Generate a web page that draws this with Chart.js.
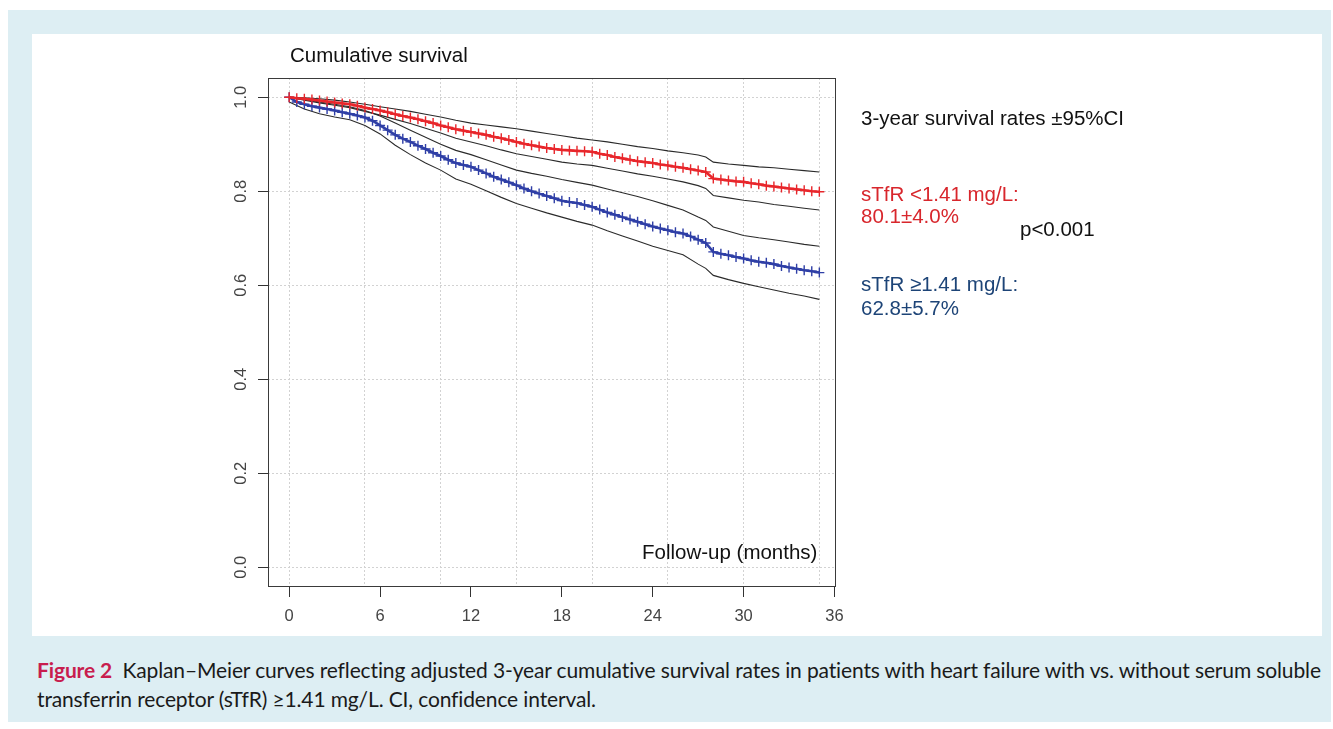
<!DOCTYPE html>
<html>
<head>
<meta charset="utf-8">
<script src="https://cdn.jsdelivr.net/npm/chart.js@4.4.0/dist/chart.umd.min.js"></script>
<style>
  html, body { margin: 0; padding: 0; width: 1333px; height: 729px; overflow: hidden; background: #fff; }
  #frame { position: absolute; left: 8px; top: 10px; width: 1323px; height: 712px; background: #ddeef3; }
  #panel { position: absolute; left: 32px; top: 34px; width: 1290px; height: 602px; background: #fff; }
  #wrap { position: absolute; left: 200px; top: 40px; width: 680px; height: 590px; }
  .t { position: absolute; font-family: "Liberation Sans", Arial, sans-serif; font-size: 20.5px; line-height: 20.5px; white-space: nowrap; color: #111; }
  .red { color: #d8262c; }
  .blue { color: #1d4477; }
  .cap { position: absolute; left: 37px; font-family: Lato, "Open Sans", sans-serif; font-size: 21px; line-height: 21px; white-space: nowrap; color: #1a1a1a; }
  .fig { color: #c81d4e; font-weight: bold; }
</style>
</head>
<body>
<div id="frame"></div>
<div id="panel"></div>
<div id="wrap"><canvas id="km"></canvas></div>

<div class="t" style="left:290px;top:45px;">Cumulative survival</div>
<div class="t" style="left:642px;top:542px;">Follow-up (months)</div>
<div class="t" style="left:861px;top:108px;">3-year survival rates ±95%CI</div>
<div class="t red" style="left:861px;top:184px;">sTfR &lt;1.41 mg/L:</div>
<div class="t red" style="left:861px;top:206px;">80.1±4.0%</div>
<div class="t" style="left:1020px;top:219px;">p&lt;0.001</div>
<div class="t blue" style="left:861px;top:274px;">sTfR ≥1.41 mg/L:</div>
<div class="t blue" style="left:861px;top:298px;">62.8±5.7%</div>

<div class="cap" id="cap1" style="top:659px;"><span class="fig">Figure 2</span>&nbsp; Kaplan–Meier curves reflecting adjusted 3-year cumulative survival rates in patients with heart failure with vs. without serum soluble</div>
<div class="cap" id="cap2" style="top:688px;">transferrin receptor (sTfR) ≥1.41 mg/L. CI, confidence interval.</div>

<script>
// follow-up time (months) for the survival curves
const months = [0,0.5,1,1.5,2,2.5,3,3.5,4,4.5,5,5.5,6,6.5,7,7.5,8,8.5,9,9.5,
  10,10.5,11,11.5,12,12.5,13,13.5,14,14.5,15,15.5,16,16.5,17,17.5,18,18.5,19,19.5,
  20,20.5,21,21.5,22,22.5,23,23.5,24,24.5,25,25.5,26,26.5,27,27.5,28,28.5,29,29.5,
  30,30.5,31,31.5,32,32.5,33,33.5,34,34.5,35];

// sTfR < 1.41 mg/L (red)
const survLow = [1.000,0.998,0.997,0.995,0.993,0.991,0.989,0.987,0.985,0.982,
  0.978,0.975,0.972,0.968,0.964,0.960,0.957,0.953,0.949,0.945,
  0.940,0.936,0.932,0.929,0.926,0.923,0.920,0.916,0.913,0.909,
  0.905,0.901,0.898,0.895,0.892,0.890,0.888,0.887,0.886,0.885,
  0.884,0.880,0.877,0.873,0.870,0.867,0.864,0.862,0.860,0.857,
  0.855,0.852,0.850,0.847,0.844,0.841,0.827,0.825,0.823,0.821,
  0.820,0.817,0.815,0.812,0.810,0.808,0.806,0.804,0.802,0.800,
  0.799];

// sTfR >= 1.41 mg/L (blue)
const survHigh = [1.000,0.990,0.985,0.981,0.978,0.975,0.972,0.968,0.965,0.961,
  0.957,0.950,0.940,0.930,0.920,0.912,0.905,0.897,0.890,0.882,
  0.875,0.867,0.860,0.856,0.852,0.845,0.838,0.831,0.825,0.819,
  0.813,0.806,0.800,0.795,0.790,0.785,0.780,0.777,0.775,0.771,
  0.767,0.761,0.755,0.750,0.745,0.740,0.735,0.730,0.725,0.721,
  0.717,0.713,0.710,0.704,0.697,0.690,0.671,0.667,0.664,0.660,
  0.657,0.653,0.650,0.648,0.645,0.641,0.638,0.635,0.632,0.630,
  0.627];

// 95% CI bands
const ciMonths = [0,1,2,3,4,5,6,7,8,9,10,11,12,13,14,15,16,17,18,19,20,21,22,23,24,25,26,27,27.5,28,29,30,31,32,33,34,35];
const lowUpper = [1.000,0.999,0.997,0.994,0.990,0.985,0.980,0.975,0.970,0.964,0.958,0.951,0.945,0.941,0.937,0.933,0.928,0.923,0.918,0.913,0.909,0.905,0.900,0.895,0.891,0.886,0.882,0.877,0.873,0.862,0.858,0.855,0.852,0.850,0.847,0.844,0.841];
const lowLower = [1.000,0.994,0.988,0.983,0.978,0.970,0.962,0.953,0.944,0.934,0.924,0.913,0.905,0.897,0.888,0.880,0.874,0.868,0.862,0.858,0.855,0.849,0.843,0.837,0.832,0.826,0.820,0.812,0.806,0.791,0.786,0.781,0.777,0.772,0.768,0.764,0.760];
const highUpper = [1.000,0.995,0.990,0.985,0.980,0.972,0.960,0.945,0.930,0.915,0.900,0.887,0.878,0.867,0.856,0.845,0.838,0.832,0.825,0.819,0.813,0.805,0.797,0.789,0.780,0.770,0.760,0.745,0.738,0.724,0.715,0.706,0.701,0.697,0.692,0.687,0.683];
const highLower = [0.990,0.975,0.965,0.958,0.952,0.940,0.922,0.898,0.878,0.860,0.845,0.826,0.815,0.801,0.787,0.774,0.764,0.754,0.745,0.736,0.728,0.716,0.705,0.694,0.683,0.674,0.665,0.645,0.636,0.621,0.612,0.604,0.597,0.590,0.583,0.577,0.570];

const xTicks = [0,6,12,18,24,30,36];
const xGrid = [0,5,10,15,20,25,30,35];
const yTicks = [0,0.2,0.4,0.6,0.8,1.0];

const pts = (xs, ys) => xs.map((x, i) => ({ x, y: ys[i] }));
const tickFont = { family: '"Liberation Sans", Arial, sans-serif', size: 16.5 };

function curve(label, xs, ys, color) {
  return { label, data: pts(xs, ys), borderColor: color, borderWidth: 2.6,
    pointStyle: 'cross', pointRadius: 5, pointBorderWidth: 1.4,
    pointBorderColor: color, pointBackgroundColor: color, pointHoverRadius: 0 };
}
function ci(xs, ys) {
  return { label: 'CI', data: pts(xs, ys), borderColor: '#2a2a2a', borderWidth: 1.1, pointRadius: 0 };
}

// box round the plot, like R's box()
const plotBox = {
  id: 'plotBox',
  beforeDatasetsDraw(chart) {
    const { ctx, chartArea: a } = chart;
    ctx.save();
    ctx.strokeStyle = '#3a3a3a';
    ctx.lineWidth = 1;
    ctx.strokeRect(a.left + 0.5, a.top + 0.5, a.width - 1, a.height - 1);
    ctx.restore();
  }
};

new Chart(document.getElementById('km'), {
  type: 'line',
  data: {
    datasets: [
      curve('sTfR <1.41 mg/L', months, survLow, '#e8262b'),
      curve('sTfR ≥1.41 mg/L', months, survHigh, '#2f3fa6'),
      ci(ciMonths, lowUpper),
      ci(ciMonths, lowLower),
      ci(ciMonths, highUpper),
      ci(ciMonths, highLower)
    ]
  },
  options: {
    animation: false,
    responsive: true,
    maintainAspectRatio: false,
    layout: { padding: { left: 0, top: 38, right: 44, bottom: 0 } },
    plugins: { legend: { display: false }, tooltip: { enabled: false } },
    elements: { line: { tension: 0 } },
    scales: {
      x: {
        type: 'linear', position: 'bottom', min: -1.4, max: 36.1,
        afterBuildTicks: s => { s.ticks = xTicks.map(v => ({ value: v })); },
        afterFit: s => { s.height = 43; },
        grid: { drawOnChartArea: false, drawTicks: true, tickLength: 10, tickColor: '#333', tickWidth: 1 },
        border: { display: false },
        ticks: { font: tickFont, color: '#444', padding: 10, maxRotation: 0, autoSkip: false }
      },
      xg: {
        type: 'linear', position: 'bottom', min: -1.4, max: 36.1,
        afterBuildTicks: s => { s.ticks = xGrid.map(v => ({ value: v })); },
        afterFit: s => { s.height = 0; },
        grid: { color: '#d2d2d2', lineWidth: 1, drawTicks: false },
        border: { display: false, dash: [2, 2] },
        ticks: { display: false }
      },
      y: {
        min: -0.042, max: 1.041,
        afterBuildTicks: s => { s.ticks = yTicks.map(v => ({ value: v })); },
        afterFit: s => { s.width = 68; },
        grid: { color: '#d2d2d2', lineWidth: 1, drawTicks: true, tickLength: 10, tickColor: '#333', tickWidth: 1 },
        border: { display: false, dash: [2, 2] },
        ticks: { font: tickFont, color: '#444', padding: 5, minRotation: 90, maxRotation: 90,
          crossAlign: 'center', autoSkip: false, callback: v => v.toFixed(1) }
      }
    }
  },
  plugins: [plotBox]
});

// squeeze the caption to the width of the printed line
const cap1 = document.getElementById('cap1');
const cap2 = document.getElementById('cap2');
const w = cap1.getBoundingClientRect().width;
const ls = (1285 - w) / cap1.textContent.length;
cap1.style.letterSpacing = ls + 'px';
cap2.style.letterSpacing = ls + 'px';
</script>
</body>
</html>
